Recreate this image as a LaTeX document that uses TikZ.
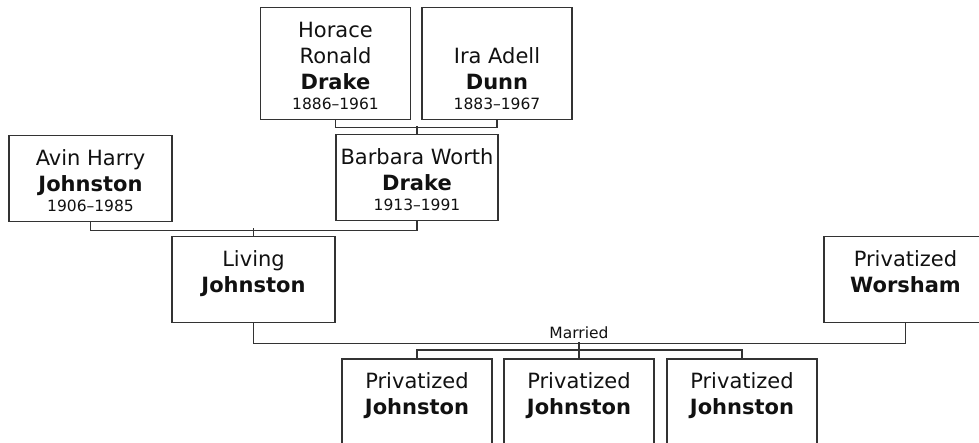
\documentclass[tikz,border=0pt]{standalone}
\usepackage{fontspec}
\setmainfont{DejaVu Sans}
\usepackage{xcolor}
\definecolor{mylinegrey}{HTML}{333333}
\definecolor{mytextblack}{HTML}{111111}
\newcommand{\personfont}{\fontsize{21}{26}\selectfont}
\newcommand{\yearsfont}{\fontsize{15.5}{18}\selectfont}
\newcommand{\topstrut}{\rule{0pt}{26pt}}
\newcommand{\yearsstrut}{\rule[-6pt]{0pt}{18pt}}

\begin{document}
\begin{tikzpicture}[x=1pt,y=-1pt]
			\tikzset{% This is the style settings for the boxes and lines
				person/.style={rectangle,anchor=north,draw=mylinegrey,line width=1.5pt,text=mytextblack,align=center,minimum width=150pt,inner xsep=3pt,inner ysep=4pt,font=\personfont},
				wideperson/.style={person,minimum width=163pt},
				link/.style={draw=mylinegrey,line width=1.5pt},
				marriage/.style={anchor=base,inner sep=1pt,text=mytextblack,font=\yearsfont}}
			\useasboundingbox (0,0) rectangle (979,443);
			\clip (0,0) rectangle (979,443);
			\node[person] (horace) at (335.5,7) {\topstrut Horace\\Ronald\\\textbf{Drake}\\[-6pt]{\yearsfont\yearsstrut 1886–1961}};
			\node[person] (ira) at (497,7) {\topstrut\\Ira Adell\\\textbf{Dunn}\\[-6pt]{\yearsfont\yearsstrut 1883–1967}};
			\node[wideperson] (avin) at (90.5,135) {\topstrut Avin Harry\\\textbf{Johnston}\\[-6pt]{\yearsfont\yearsstrut 1906–1985}};
			\node[wideperson,minimum width=162pt] (barbara) at (417,134) {\topstrut Barbara Worth\\\textbf{Drake}\\[-6pt]{\yearsfont\yearsstrut 1913–1991}};
			\node[wideperson] (living) at (253.5,236) {\topstrut Living\\\textbf{Johnston}\\[-6pt]{\yearsfont\yearsstrut}};
			\node[wideperson] (worsham) at (905.5,236) {\topstrut Privatized\\\textbf{Worsham}\\[-6pt]{\yearsfont\yearsstrut}};
			\node[person] (kid1) at (417,358) {\topstrut Privatized\\\textbf{Johnston}\\[-6pt]{\yearsfont\yearsstrut}};
			\node[person] (kid2) at (579,358) {\topstrut Privatized\\\textbf{Johnston}\\[-6pt]{\yearsfont\yearsstrut}};
			\node[person] (kid3) at (742,358) {\topstrut Privatized\\\textbf{Johnston}\\[-6pt]{\yearsfont\yearsstrut}};
			\coordinate (wed) at (579,342);
			\node[marriage] (married) at (579,338.5) {Married};

			\draw[link] (horace.south) -- ++(0,7) -| (ira.south);
			\draw[link] (barbara.north) -- ++(0,-8);
			\draw[link] (avin.south) -- ++(0,8) -| (barbara.south);
			\draw[link] (living.north) -- ++(0,-8);
			\draw[link] (living.south) -- ++(0,20) -| (worsham.south);
			\draw[link] (wed) -- (kid2.north);
			\draw[link] (kid1.north) -- ++(0,-8) -| (kid3.north);
		\end{tikzpicture}
\end{document}
